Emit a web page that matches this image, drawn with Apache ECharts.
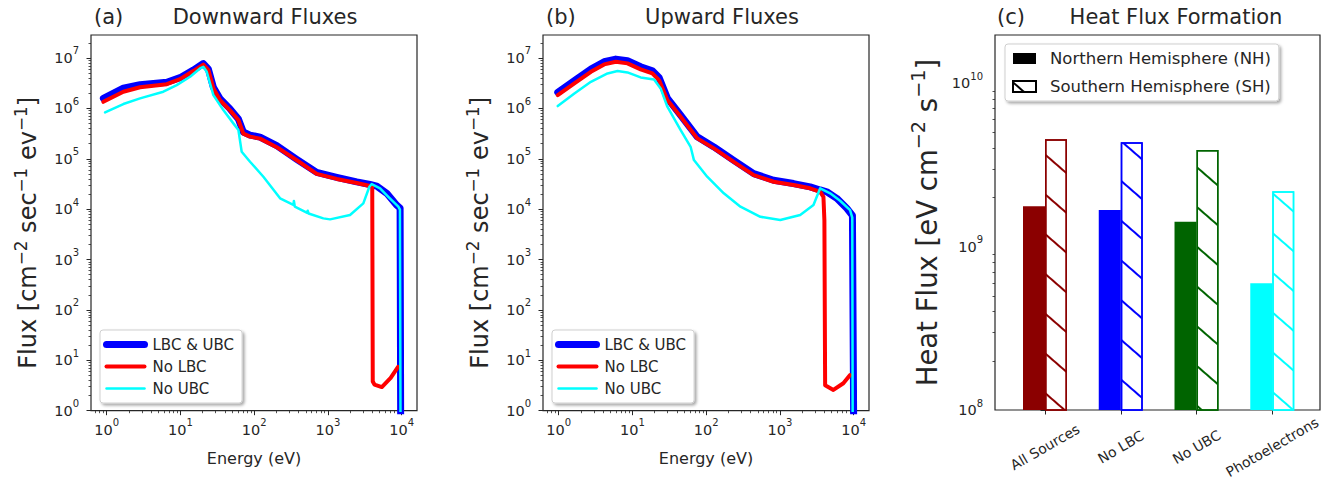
<!DOCTYPE html>
<html><head><meta charset="utf-8">
<script src="https://cdn.jsdelivr.net/npm/echarts@6/dist/echarts.min.js"></script>
<style>html,body{margin:0;padding:0;background:#fff}#c{width:1328px;height:488px}</style>
</head><body><div id="c"></div><script>
// ---------------- data ----------------
const energyTicks = [1, 10, 100, 1000, 10000];
const fluxTicks = [1, 10, 100, 1000, 10000, 1e5, 1e6, 1e7];
const heatTicks = [1e8, 1e9, 1e10];
const seriesNames = ['LBC & UBC', 'No LBC', 'No UBC'];
const categories = ['All Sources', 'No LBC', 'No UBC', 'Photoelectrons'];
const barColors = ['#8b0000', '#0000ff', '#006400', '#00ffff'];
const nhHeatFlux = [1.77e9, 1.68e9, 1.42e9, 5.97e8];
const shHeatFlux = [4.55e9, 4.36e9, 3.91e9, 2.19e9];

// (a) Downward fluxes: [energy eV, flux]
const downBoth = [[0.90,1.58e6],[1.68,2.51e6],[2.83,2.95e6],[6.52,3.31e6],[9.86,4.07e6],[14.9,5.75e6],[20.4,7.76e6],[23.9,6.03e6],[27.9,2.63e6],[34.4,1.55e6],[47.0,9.77e5],[61.0,6.17e5],[71.1,3.39e5],[87.7,2.95e5],[120,2.69e5],[202,1.82e5],[377,9.77e4],[703,5.37e4],[1315,4.27e4],[2455,3.47e4],[3715,3.09e4],[4581,2.87e4],[6266,2.06e4],[8551,1.2e4],[9500,1.05e4],[9700,0.1]];
const downNoLBC = [[0.90,1.35e6],[1.68,2.14e6],[2.83,2.63e6],[6.52,3.02e6],[9.86,3.80e6],[14.9,5.50e6],[20.4,7.41e6],[23.9,5.75e6],[27.9,2.51e6],[34.4,1.45e6],[47.0,9.12e5],[61.0,5.89e5],[71.1,3.16e5],[87.7,2.75e5],[120,2.51e5],[202,1.70e5],[377,9.33e4],[703,5.01e4],[1315,3.98e4],[2455,3.31e4],[3715,2.88e4],[3981,2.75e4],[4046,3.8],[4266,3.3],[5370,2.95],[7079,4.47],[8913,7.41]];
const downNoUBC = [[0.95,8.3e5],[1.68,1.22e6],[2.83,1.58e6],[5.86,2.14e6],[8.89,2.90e6],[13.5,4.24e6],[18.4,6.21e6],[20.4,6.68e6],[22.7,5.32e6],[27.9,1.84e6],[38.1,9.25e5],[52.1,5.04e5],[61.0,3.71e5],[67.6,1.38e5],[87.7,8.71e4],[133,4.40e4],[224,1.64e4],[339,1.21e4],[345,1.45e4],[355,1.12e4],[515,8.49e3],[530,9.3e3],[545,8.2e3],[865,6.56e3],[1067,6.27e3],[1991,7.64e3],[3013,1.30e4],[3639,2.78e4],[3917,3.15e4],[5082,2.59e4],[6577,1.76e4],[8995,1.12e4],[9450,9.8e3],[9650,0.1]];

// (b) Upward fluxes
const upBoth = [[0.97,2.08e6],[1.63,3.54e6],[2.73,6.01e6],[4.13,8.43e6],[5.94,9.5e6],[8.55,8.84e6],[12.9,6.71e6],[18.6,5.58e6],[22.9,4.12e6],[29.7,1.6e6],[45.0,7.3e5],[75.5,2.72e5],[127,1.72e5],[236,9.3e4],[440,5.08e4],[820,3.75e4],[1528,3.22e4],[2564,2.77e4],[3508,2.4e4],[4305,2.21e4],[5888,1.64e4],[8035,1.04e4],[9600,7.5e3],[10050,0.1]];
const upNoLBC = [[0.97,1.84e6],[1.63,3.13e6],[2.73,5.32e6],[4.13,7.46e6],[5.94,8.41e6],[8.55,7.82e6],[12.9,5.94e6],[18.6,4.94e6],[22.9,3.65e6],[29.7,1.46e6],[45.0,6.81e5],[75.5,2.54e5],[127,1.61e5],[236,8.71e4],[440,4.75e4],[820,3.50e4],[1528,3.01e4],[2564,2.59e4],[3508,2.21e4],[3882,1.76e4],[4000,6e3],[4093,3.2],[5297,2.58],[7228,3.5],[8913,5.1]];
const upNoUBC = [[0.97,1.11e6],[1.63,1.98e6],[2.73,3.37e6],[4.59,4.94e6],[6.27,5.50e6],[8.55,5.18e6],[12.9,4.12e6],[19.6,3.76e6],[24.1,2.49e6],[29.7,1.08e6],[45.0,3.71e5],[61.4,1.73e5],[68.1,9.42e4],[103,4.40e4],[173,2.06e4],[291,1.12e4],[542,7.06e3],[1009,6.08e3],[1879,7.64e3],[2844,1.21e4],[3508,2.59e4],[4786,2.06e4],[6531,1.47e4],[8913,9.6e3],[9550,6.8e3],[9700,0.1]];

// ---------------- helpers ----------------
const FONT = 'DejaVu Sans';
const AX = '#262626';
function minorTicks(lo, hi) {
  const out = [];
  for (let k = -2; k <= 12; k++) for (let m = 2; m <= 9; m++) {
    const v = m * Math.pow(10, k);
    if (v > lo && v < hi) out.push(v);
  }
  return out;
}
function supLabel(v) { return '{b|10}{s|' + Math.round(Math.log10(v)) + '}'; }
const richTick = {
  b: {fontSize: 14.5, fontFamily: FONT, color: AX, lineHeight: 24},
  s: {fontSize: 10, fontFamily: FONT, color: AX, verticalAlign: 'top', lineHeight: 12}
};
function richName(size) {
  return {
    t: {fontSize: size, fontFamily: FONT, color: AX, lineHeight: size * 1.3},
    u: {fontSize: size * 0.7, fontFamily: FONT, color: AX, verticalAlign: 'top', lineHeight: size * 0.75}
  };
}
const grids = [
  {left: 91, top: 35, width: 326, height: 375.7},
  {left: 543, top: 35, width: 326, height: 375.7},
  {left: 995, top: 35, width: 325, height: 375}
].map(g => Object.assign(g, {show: true, borderColor: AX, borderWidth: 1.2, backgroundColor: 'transparent'}));

const X_MIN = 0.612, X_MAX = 16100, Y_MIN = 1, Y_MAX = 2.86e7, H_MIN = 1e8, H_MAX = 1.98e10;
function majorLogX(gi) {
  return {type: 'log', gridIndex: gi, min: X_MIN, max: X_MAX, position: 'bottom',
    axisLine: {show: false}, splitLine: {show: false},
    axisTick: {show: true, length: 4.5, lineStyle: {color: AX, width: 1}, customValues: energyTicks},
    axisLabel: {customValues: energyTicks, formatter: supLabel, rich: richTick, margin: 7},
    name: 'Energy (eV)', nameLocation: 'middle', nameGap: 40,
    nameTextStyle: {fontSize: 16, fontFamily: FONT, color: AX}};
}
function minorAxis(gi, min, max, pos) {
  return {type: 'log', gridIndex: gi, min: min, max: max, position: pos,
    axisLine: {show: false}, splitLine: {show: false}, axisLabel: {show: false},
    axisTick: {show: true, length: 2.5, lineStyle: {color: AX, width: 0.8}, customValues: minorTicks(min, max)}};
}
function majorLogY(gi, min, max, ticks, name, gap, size, pad) {
  return {type: 'log', gridIndex: gi, min: min, max: max, position: 'left',
    axisLine: {show: false}, splitLine: {show: false},
    axisTick: {show: true, length: 4.5, lineStyle: {color: AX, width: 1}, customValues: ticks},
    axisLabel: {customValues: ticks, formatter: supLabel, rich: richTick, margin: 12},
    name: name, nameLocation: 'middle', nameGap: gap, nameTextStyle: {rich: richName(size), padding: pad}};
}
const fluxName = '{t|Flux [cm}{u|−2}{t| sec}{u|−1}{t| ev}{u|−1}{t|]}';
const heatName = '{t|Heat Flux [eV cm}{u|−2}{t| s}{u|−1}{t|]}';

const lineColors = ['#0000ff', '#ff0000', '#00ffff'];
const lineWidths = [7, 4, 2.5];
function lineSeries(name, idx, data, axisIdx) {
  return {type: 'line', name: name, xAxisIndex: axisIdx, yAxisIndex: axisIdx, data: data,
    symbol: 'none', showSymbol: false, clip: true, animation: false,
    lineStyle: {color: lineColors[idx], width: lineWidths[idx], cap: 'round', join: 'round'},
    itemStyle: {color: lineColors[idx]}};
}
function legendBox(left, top) {
  return {data: seriesNames.map((n, i) => ({name: n, lineStyle: {width: lineWidths[i], color: lineColors[i]}})),
    left: left, top: top, orient: 'vertical', itemWidth: 38, itemHeight: 2, itemGap: 7,
    itemStyle: {opacity: 0},
    textStyle: {fontSize: 15, fontFamily: FONT, color: AX, padding: [0, 0, 0, 3]}, backgroundColor: '#fff',
    borderColor: '#cfcfcf', borderWidth: 1, borderRadius: 3, shadowBlur: 3, shadowColor: 'rgba(0,0,0,0.35)',
    shadowOffsetX: 2, shadowOffsetY: 2, padding: [7, 8, 7, 3], selectedMode: false};
}
const hatch = c => ({symbol: 'rect', symbolSize: 1, color: c, dashArrayX: [1, 0], dashArrayY: [2, 28], rotation: 41 * Math.PI / 180});

const titleStyle = {fontSize: 21, fontFamily: FONT, color: AX, fontWeight: 'normal'};
const option = {
  animation: false,
  backgroundColor: '#fff',
  title: [
    {text: '(a)', left: 94, top: 6, textStyle: titleStyle, padding: 0},
    {text: 'Downward Fluxes', left: 265, top: 6, textAlign: 'center', textStyle: titleStyle, padding: 0},
    {text: '(b)', left: 546, top: 6, textStyle: titleStyle, padding: 0},
    {text: 'Upward Fluxes', left: 722, top: 6, textAlign: 'center', textStyle: titleStyle, padding: 0},
    {text: '(c)', left: 997, top: 6, textStyle: titleStyle, padding: 0},
    {text: 'Heat Flux Formation', left: 1176, top: 6, textAlign: 'center', textStyle: titleStyle, padding: 0}
  ],
  grid: grids,
  xAxis: [
    majorLogX(0), minorAxis(0, X_MIN, X_MAX, 'bottom'),
    majorLogX(1), minorAxis(1, X_MIN, X_MAX, 'bottom'),
    {type: 'value', gridIndex: 2, min: -0.66, max: 3.63, position: 'bottom',
     axisLine: {show: false}, splitLine: {show: false},
     axisTick: {show: true, length: 4.5, lineStyle: {color: AX, width: 1}, customValues: [0, 1, 2, 3]},
     axisLabel: {customValues: [0, 1, 2, 3], formatter: v => categories[Math.round(v)], rotate: 30, margin: 37,
       align: 'center', verticalAlign: 'middle', fontSize: 14, fontFamily: FONT, color: AX}}
  ],
  yAxis: [
    majorLogY(0, Y_MIN, Y_MAX, fluxTicks, fluxName, 47, 24, [0, 20, 0, 0]), minorAxis(0, Y_MIN, Y_MAX, 'left'),
    majorLogY(1, Y_MIN, Y_MAX, fluxTicks, fluxName, 47, 24, [0, 20, 0, 0]), minorAxis(1, Y_MIN, Y_MAX, 'left'),
    majorLogY(2, H_MIN, H_MAX, heatTicks, heatName, 50, 27.5, 0), minorAxis(2, H_MIN, H_MAX, 'left')
  ],
  legend: [
    legendBox(100, 330),
    legendBox(552, 330),
    {data: ['Northern Hemisphere (NH)', 'Southern Hemisphere (SH)'], left: 1005, top: 44, orient: 'vertical',
     icon: 'rect', itemWidth: 23, itemHeight: 11, itemGap: 11, selectedMode: false,
     textStyle: {fontSize: 16.5, fontFamily: FONT, color: AX, padding: [0, 0, 0, 9]}, backgroundColor: '#fff',
     borderColor: '#cfcfcf', borderWidth: 1, borderRadius: 3, shadowBlur: 3, shadowColor: 'rgba(0,0,0,0.35)',
     shadowOffsetX: 2, shadowOffsetY: 2, padding: [6, 8, 6, 7]}
  ],
  series: [
    lineSeries(seriesNames[0], 0, downBoth, 0),
    lineSeries(seriesNames[1], 1, downNoLBC, 0),
    lineSeries(seriesNames[2], 2, downNoUBC, 0),
    lineSeries(seriesNames[0], 0, upBoth, 2),
    lineSeries(seriesNames[1], 1, upNoLBC, 2),
    lineSeries(seriesNames[2], 2, upNoUBC, 2),
    {type: 'bar', name: 'Northern Hemisphere (NH)', xAxisIndex: 4, yAxisIndex: 4, barWidth: 22, barGap: '0%',
     clip: true, itemStyle: {color: '#000'},
     data: nhHeatFlux.map((v, i) => ({value: [i, v], itemStyle: {color: barColors[i]}}))},
    {type: 'bar', name: 'Southern Hemisphere (SH)', xAxisIndex: 4, yAxisIndex: 4, barWidth: 22, barGap: '0%',
     clip: true, itemStyle: {color: '#fff', borderColor: '#000', borderWidth: 1.2, decal: hatch('#000')},
     data: shHeatFlux.map((v, i) => ({value: [i, v], itemStyle: {color: '#fff', borderColor: barColors[i], borderWidth: 1.5, decal: hatch(barColors[i])}}))}
  ]
};
const chart = echarts.init(document.getElementById('c'), null, {renderer: 'svg'});
chart.setOption(option);
</script></body></html>
